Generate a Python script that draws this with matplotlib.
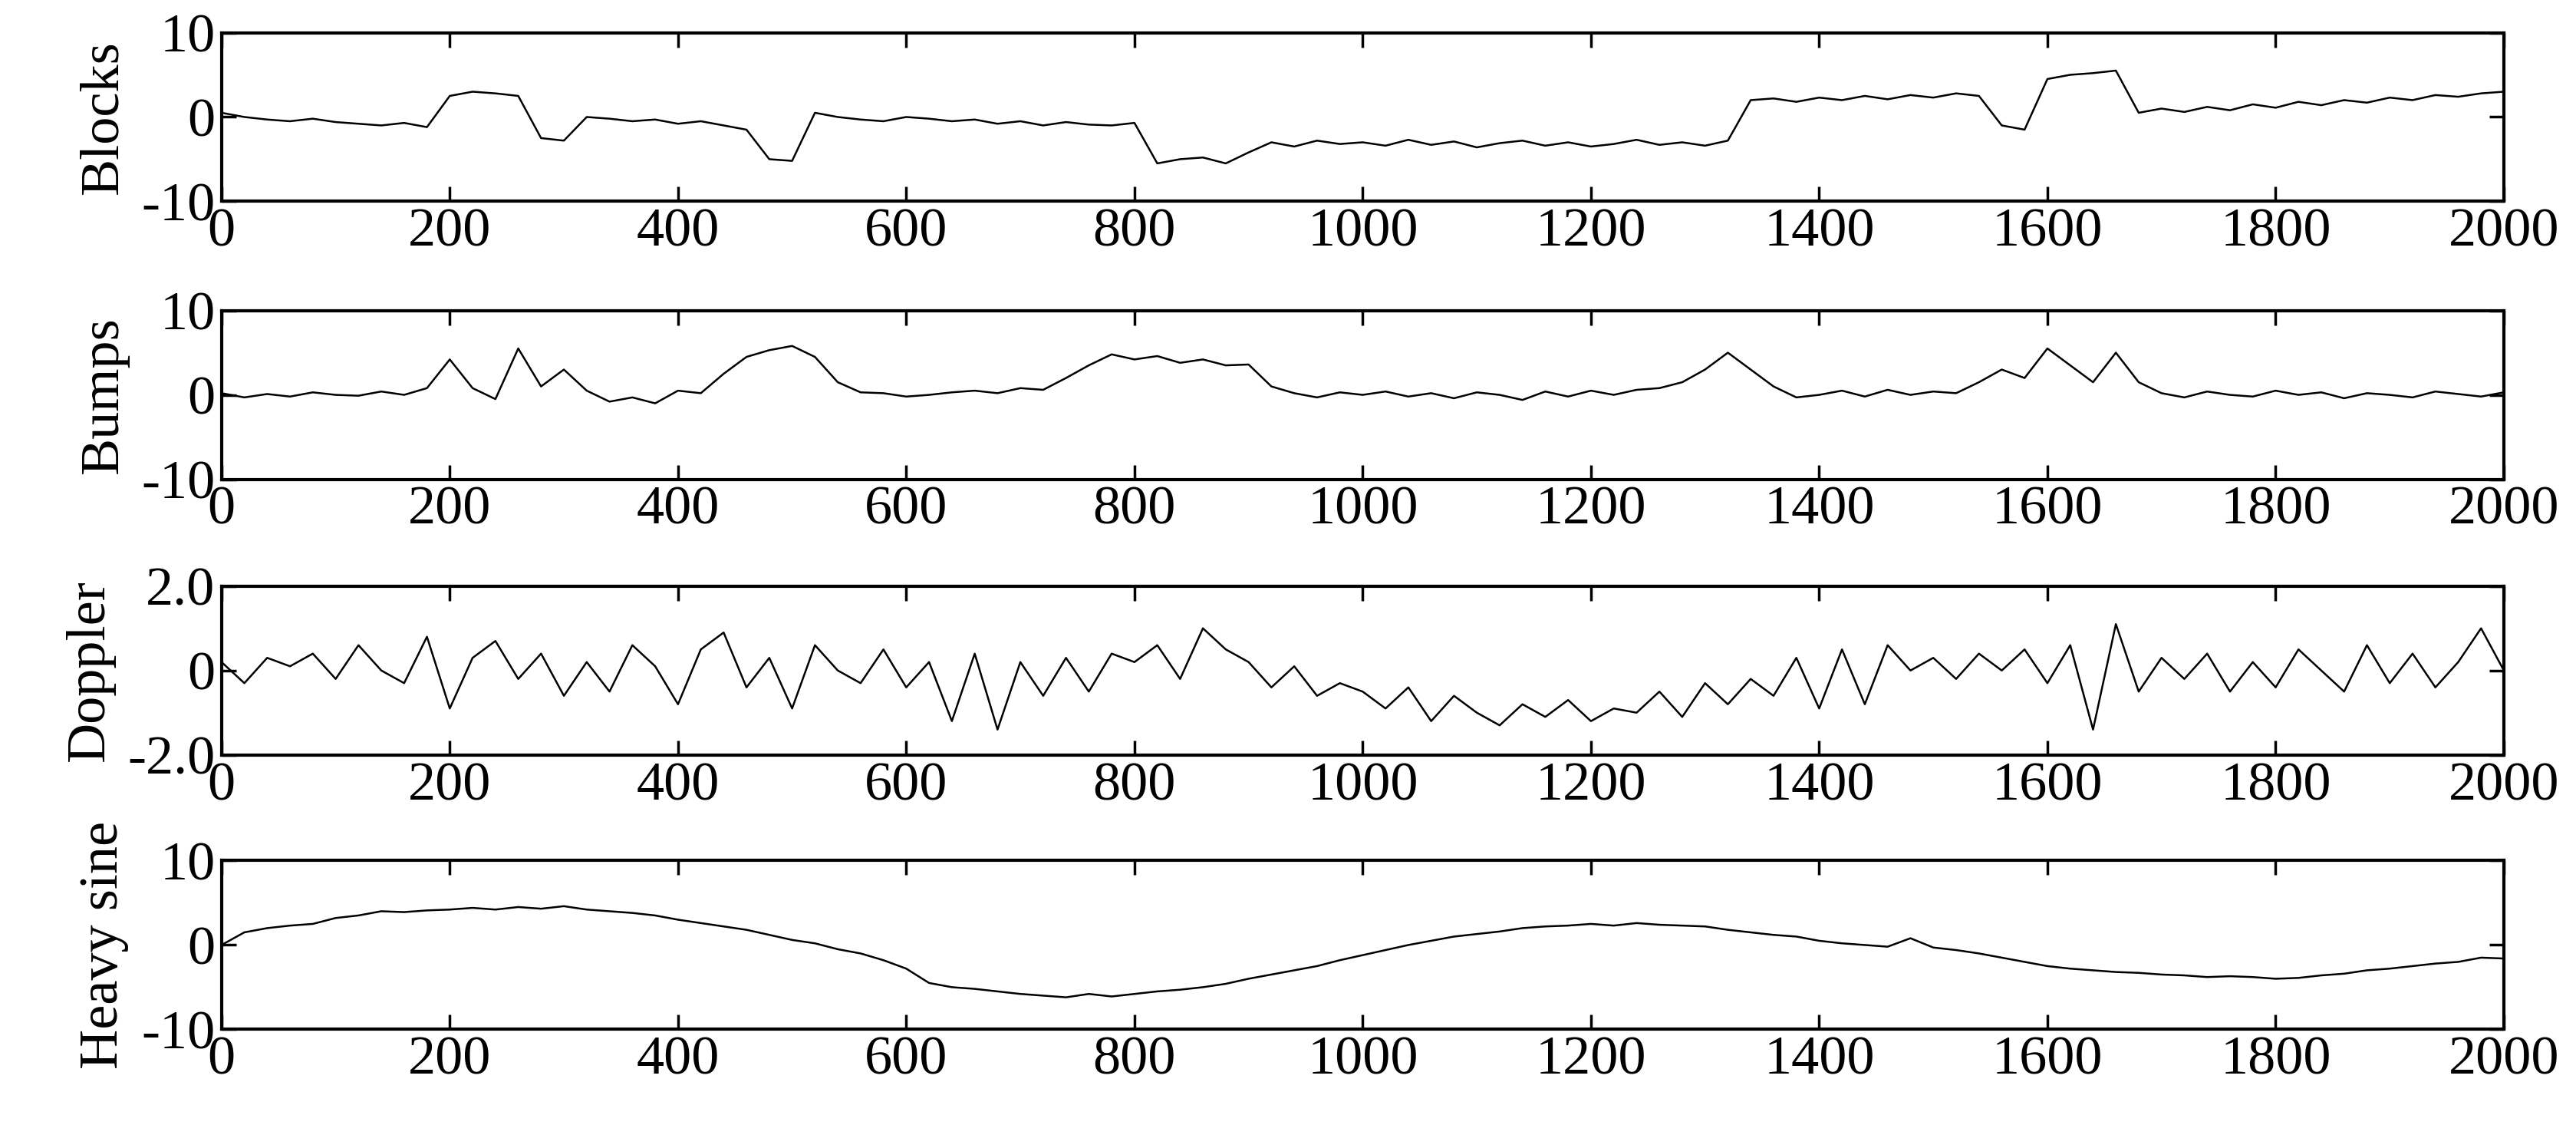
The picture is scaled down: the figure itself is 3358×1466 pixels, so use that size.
import numpy as np
import matplotlib
matplotlib.use("Agg")
import matplotlib.pyplot as plt

plt.rcParams['font.family'] = ['Liberation Serif', 'DejaVu Serif']

x = list(range(0, 2001, 20))

blocks = [0.5, 0, -0.3, -0.5, -0.2, -0.6, -0.8, -1.0, -0.7, -1.2,
          2.5, 3.0, 2.8, 2.5, -2.5, -2.8, 0.0, -0.2, -0.5, -0.3,
          -0.8, -0.5, -1.0, -1.5, -5.0, -5.2, 0.5, 0.0, -0.3, -0.5,
          0.0, -0.2, -0.5, -0.3, -0.8, -0.5, -1.0, -0.6, -0.9, -1.0,
          -0.7, -5.5, -5.0, -4.8, -5.5, -4.2, -3.0, -3.5, -2.8, -3.2,
          -3.0, -3.4, -2.7, -3.3, -2.9, -3.6, -3.1, -2.8, -3.4, -3.0,
          -3.5, -3.2, -2.7, -3.3, -3.0, -3.4, -2.8, 2.0, 2.2, 1.8,
          2.3, 2.0, 2.5, 2.1, 2.6, 2.3, 2.8, 2.5, -1.0, -1.5,
          4.5, 5.0, 5.2, 5.5, 0.5, 1.0, 0.6, 1.2, 0.8, 1.5,
          1.1, 1.8, 1.4, 2.0, 1.7, 2.3, 2.0, 2.6, 2.4, 2.8, 3.0]

bumps = [0.2, -0.3, 0.1, -0.2, 0.3, 0.0, -0.1, 0.4, 0.0, 0.8,
         4.2, 0.8, -0.5, 5.5, 1.0, 3.0, 0.5, -0.8, -0.3, -1.0,
         0.5, 0.2, 2.5, 4.5, 5.3, 5.8, 4.5, 1.5, 0.3, 0.2,
         -0.2, 0.0, 0.3, 0.5, 0.2, 0.8, 0.6, 2.0, 3.5, 4.8,
         4.2, 4.6, 3.8, 4.2, 3.5, 3.6, 1.0, 0.2, -0.3, 0.3,
         0.0, 0.4, -0.2, 0.2, -0.4, 0.3, 0.0, -0.6, 0.4, -0.2,
         0.5, 0.0, 0.6, 0.8, 1.5, 3.0, 5.0, 3.0, 1.0, -0.3,
         0.0, 0.5, -0.2, 0.6, 0.0, 0.4, 0.2, 1.5, 3.0, 2.0,
         5.5, 3.5, 1.5, 5.0, 1.5, 0.2, -0.3, 0.4, 0.0, -0.2,
         0.5, 0.0, 0.3, -0.4, 0.2, 0.0, -0.3, 0.4, 0.1, -0.2, 0.3]

doppler = [0.2, -0.3, 0.3, 0.1, 0.4, -0.2, 0.6, 0.0, -0.3, 0.8,
           -0.9, 0.3, 0.7, -0.2, 0.4, -0.6, 0.2, -0.5, 0.6, 0.1,
           -0.8, 0.5, 0.9, -0.4, 0.3, -0.9, 0.6, 0.0, -0.3, 0.5,
           -0.4, 0.2, -1.2, 0.4, -1.4, 0.2, -0.6, 0.3, -0.5, 0.4,
           0.2, 0.6, -0.2, 1.0, 0.5, 0.2, -0.4, 0.1, -0.6, -0.3,
           -0.5, -0.9, -0.4, -1.2, -0.6, -1.0, -1.3, -0.8, -1.1, -0.7,
           -1.2, -0.9, -1.0, -0.5, -1.1, -0.3, -0.8, -0.2, -0.6, 0.3,
           -0.9, 0.5, -0.8, 0.6, 0.0, 0.3, -0.2, 0.4, 0.0, 0.5,
           -0.3, 0.6, -1.4, 1.1, -0.5, 0.3, -0.2, 0.4, -0.5, 0.2,
           -0.4, 0.5, 0.0, -0.5, 0.6, -0.3, 0.4, -0.4, 0.2, 1.0, 0.0]

heavysine = [0.0, 1.5, 2.0, 2.3, 2.5, 3.2, 3.5, 4.0, 3.9, 4.1,
             4.2, 4.4, 4.2, 4.5, 4.3, 4.6, 4.2, 4.0, 3.8, 3.5,
             3.0, 2.6, 2.2, 1.8, 1.2, 0.6, 0.2, -0.5, -1.0, -1.8,
             -2.8, -4.5, -5.0, -5.2, -5.5, -5.8, -6.0, -6.2, -5.8, -6.1,
             -5.8, -5.5, -5.3, -5.0, -4.6, -4.0, -3.5, -3.0, -2.5, -1.8,
             -1.2, -0.6, 0.0, 0.5, 1.0, 1.3, 1.6, 2.0, 2.2, 2.3,
             2.5, 2.3, 2.6, 2.4, 2.3, 2.2, 1.8, 1.5, 1.2, 1.0,
             0.5, 0.2, 0.0, -0.2, 0.8, -0.3, -0.6, -1.0, -1.5, -2.0,
             -2.5, -2.8, -3.0, -3.2, -3.3, -3.5, -3.6, -3.8, -3.7, -3.8,
             -4.0, -3.9, -3.6, -3.4, -3.0, -2.8, -2.5, -2.2, -2.0, -1.5, -1.6]

names = ['Blocks', 'Bumps', 'Doppler', 'Heavy sine']
series = [blocks, bumps, doppler, heavysine]
ylims = [(-10, 10), (-10, 10), (-2, 2), (-10, 10)]
yticklabels = [['-10', '0', '10'], ['-10', '0', '10'], ['-2.0', '0', '2.0'], ['-10', '0', '10']]

fig = plt.figure(figsize=(33.58, 14.66), dpi=100)
tops = [0.971, 0.724, 0.479, 0.235]
h = 0.150
for i in range(4):
    ax = fig.add_axes([0.086, tops[i] - h, 0.886, h])
    ax.plot(x, series[i], color='black', lw=1.8)
    ax.set_xlim(0, 2000)
    lo, hi = ylims[i]
    ax.set_ylim(lo, hi)
    ax.set_yticks([lo, 0, hi])
    ax.set_yticklabels(yticklabels[i])
    ax.set_xticks(range(0, 2001, 200))
    ax.tick_params(direction='in', top=True, right=True, labelsize=52, length=14, width=2.5, pad=6)
    for s in ax.spines.values():
        s.set_linewidth(3)
    ax.set_ylabel(names[i], fontsize=52, labelpad=12)

fig.savefig('out.png', dpi=100)
